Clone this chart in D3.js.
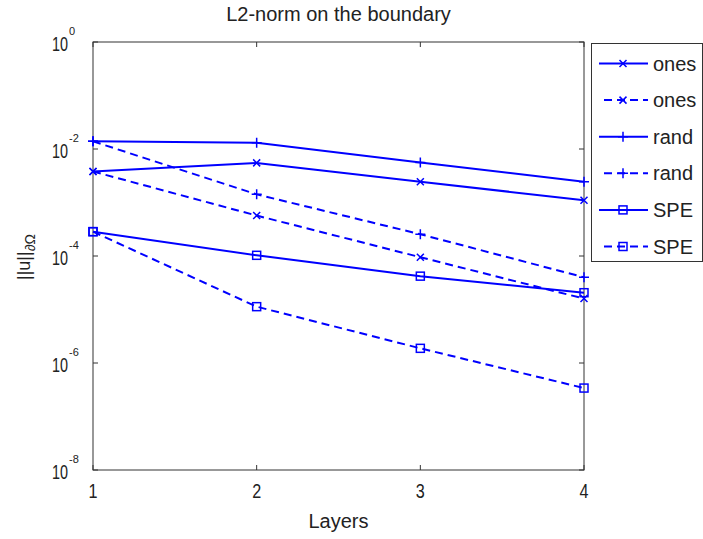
<!DOCTYPE html>
<html>
<head>
<meta charset="utf-8">
<script src="https://cdn.jsdelivr.net/npm/d3@7"></script>
<style>
  body { margin: 0; background: #fff; }
  text { font-family: "Liberation Sans", Arial, sans-serif; fill: #222; }
</style>
</head>
<body>
<div id="chart"></div>
<script>
// values
const layers = [1, 2, 3, 4]
const onesSolid  = [3.8e-3, 5.5e-3, 2.45e-3, 1.1e-3]
const onesDashed = [3.8e-3, 5.7e-4, 9.5e-5, 1.6e-5]
const randSolid  = [1.39e-2, 1.31e-2, 5.6e-3, 2.45e-3]
const randDashed = [1.39e-2, 1.42e-3, 2.55e-4, 4.0e-5]
const speSolid   = [2.85e-4, 1.03e-4, 4.2e-5, 2.06e-5]
const speDashed  = [2.85e-4, 1.13e-5, 1.88e-6, 3.4e-7]
const yExponents = [0, -2, -4, -6, -8]

const series = [
  {name: 'ones', values: onesSolid,  dashed: false, marker: 'x'},
  {name: 'ones', values: onesDashed, dashed: true,  marker: 'x'},
  {name: 'rand', values: randSolid,  dashed: false, marker: '+'},
  {name: 'rand', values: randDashed, dashed: true,  marker: '+'},
  {name: 'SPE',  values: speSolid,   dashed: false, marker: 's'},
  {name: 'SPE',  values: speDashed,  dashed: true,  marker: 's'}
]

const W = 703, H = 539
const blue = '#0000ff'
const dash = '8,5'

let svg = d3.select('#chart').append('svg')
  .attr('width', W)
  .attr('height', H)

let x = d3.scaleLinear().domain([1, 4]).range([93, 584])
let y = d3.scaleLog().domain([1e-8, 1]).range([470, 42])

// plot box
svg.append('rect')
  .attr('x', x(1)).attr('y', y(1))
  .attr('width', x(4) - x(1)).attr('height', y(1e-8) - y(1))
  .attr('fill', 'none').attr('stroke', '#333').attr('stroke-width', 1)

// ticks, inward on all four sides
const tl = 5
layers.forEach(v => {
  svg.append('line').attr('x1', x(v)).attr('x2', x(v)).attr('y1', y(1e-8)).attr('y2', y(1e-8) - tl).attr('stroke', '#333')
  svg.append('line').attr('x1', x(v)).attr('x2', x(v)).attr('y1', y(1)).attr('y2', y(1) + tl).attr('stroke', '#333')
  svg.append('text')
    .attr('x', x(v)).attr('y', 498)
    .attr('text-anchor', 'middle')
    .attr('font-size', 20)
    .attr('textLength', 9).attr('lengthAdjust', 'spacingAndGlyphs')
    .text(v)
})

yExponents.forEach(e => {
  let v = Math.pow(10, e)
  svg.append('line').attr('x1', x(1)).attr('x2', x(1) + tl).attr('y1', y(v)).attr('y2', y(v)).attr('stroke', '#333')
  svg.append('line').attr('x1', x(4)).attr('x2', x(4) - tl).attr('y1', y(v)).attr('y2', y(v)).attr('stroke', '#333')
  let t = svg.append('text')
    .attr('x', 52).attr('y', y(v) + 9)
    .attr('font-size', 20)
  t.append('tspan')
    .attr('textLength', 16).attr('lengthAdjust', 'spacingAndGlyphs')
    .text('10')
  t.append('tspan')
    .attr('x', 69).attr('dy', -16)
    .attr('font-size', 11)
    .text(e)
})

// markers
function drawMarker(g, m, cx, cy) {
  if (m === 'x') {
    let s = 3.5
    g.append('path')
      .attr('d', `M${cx - s},${cy - s}L${cx + s},${cy + s}M${cx - s},${cy + s}L${cx + s},${cy - s}`)
      .attr('stroke', blue).attr('stroke-width', 1.5).attr('fill', 'none')
  } else if (m === '+') {
    let s = 5
    g.append('path')
      .attr('d', `M${cx - s},${cy}L${cx + s},${cy}M${cx},${cy - s}L${cx},${cy + s}`)
      .attr('stroke', blue).attr('stroke-width', 1.5).attr('fill', 'none')
  } else {
    let s = 4
    g.append('rect')
      .attr('x', cx - s).attr('y', cy - s).attr('width', 2 * s).attr('height', 2 * s)
      .attr('stroke', blue).attr('stroke-width', 1.5).attr('fill', 'none')
  }
}

let line = d3.line()
  .x((d, i) => x(layers[i]))
  .y(d => y(d))

series.forEach(s => {
  let g = svg.append('g')
  g.append('path')
    .datum(s.values)
    .attr('d', line)
    .attr('fill', 'none')
    .attr('stroke', blue)
    .attr('stroke-width', 2)
    .attr('stroke-dasharray', s.dashed ? dash : null)
  s.values.forEach((v, i) => drawMarker(g, s.marker, x(layers[i]), y(v)))
})

// title and axis labels
svg.append('text')
  .attr('x', (x(1) + x(4)) / 2).attr('y', 21)
  .attr('text-anchor', 'middle')
  .attr('font-size', 20)
  .text('L2-norm on the boundary')

svg.append('text')
  .attr('x', (x(1) + x(4)) / 2).attr('y', 528)
  .attr('text-anchor', 'middle')
  .attr('font-size', 20)
  .text('Layers')

let yl = svg.append('text')
  .attr('transform', 'translate(30,257) rotate(-90)')
  .attr('text-anchor', 'middle')
  .attr('font-size', 18)
yl.append('tspan').text('||u||')
yl.append('tspan').attr('dy', 5).attr('font-size', 14).text('∂Ω')

// legend
let lg = svg.append('g')
lg.append('rect')
  .attr('x', 591.5).attr('y', 43.5)
  .attr('width', 111).attr('height', 218)
  .attr('fill', '#fff').attr('stroke', '#333')

series.forEach((s, i) => {
  let ly = 63.5 + i * 36.6
  lg.append('line')
    .attr('x1', s.dashed ? 604 : 599).attr('x2', 648)
    .attr('y1', ly).attr('y2', ly)
    .attr('stroke', blue).attr('stroke-width', 2)
    .attr('stroke-dasharray', s.dashed ? dash : null)
  drawMarker(lg, s.marker, 623, ly)
  lg.append('text')
    .attr('x', 653).attr('y', ly + 7)
    .attr('font-size', 20)
    .text(s.name)
})
</script>
</body>
</html>
